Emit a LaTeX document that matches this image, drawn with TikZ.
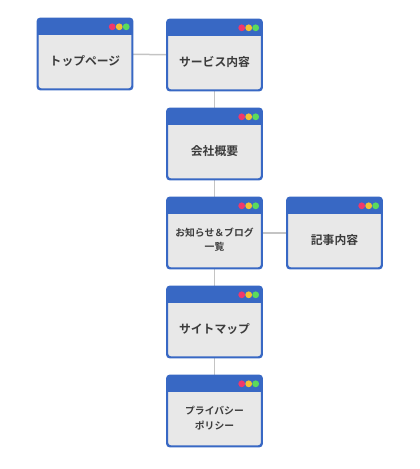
\documentclass[tikz,border=0pt]{standalone}
\usepackage{fontspec}
\newfontfamily\jp{Noto Sans CJK JP Bold}
\definecolor{hdr}{HTML}{3868C4}
\definecolor{bodyc}{HTML}{E8E8E8}
\definecolor{txt}{HTML}{3C3C3C}
\definecolor{lnc}{HTML}{C4C4C4}
\definecolor{dred}{HTML}{F0386B}
\definecolor{dyel}{HTML}{F2C230}
\definecolor{dgrn}{HTML}{5BDB5B}
\tikzset{
  page/.style={draw=hdr, line width=1.4pt, fill=bodyc, rounded corners=3pt, minimum width=94pt, minimum height=70pt, inner sep=0pt},
  pagetext/.style={font=\jp\fontsize{11.8}{14}\selectfont, text=txt, align=center},
  smalltext/.style={font=\jp\fontsize{9.8}{14.3}\selectfont, text=txt, align=center},
  conn/.style={draw=lnc, line width=1.5pt}
}
\newcommand{\winbox}[4]{%
  \node[page] (#1) at (#2) {};
  \begin{scope}
    \clip[rounded corners=3pt] (#1.north west) rectangle (#1.south east);
    \fill[hdr] (#1.north west) rectangle ([yshift=-17pt]#1.north east);
  \end{scope}
  \draw[hdr, line width=1.4pt, rounded corners=3pt] (#1.north west) rectangle (#1.south east);
  \fill[dred] ([xshift=-20.5pt,yshift=-8.5pt]#1.north east) circle (3.4pt);
  \fill[dyel] ([xshift=-13.5pt,yshift=-8.5pt]#1.north east) circle (3.4pt);
  \fill[dgrn] ([xshift=-6.5pt,yshift=-8.5pt]#1.north east) circle (3.4pt);
  \node[#4] (#1-t) at ([yshift=-7pt]#1.center) {#3};
}
\begin{document}
\begin{tikzpicture}[x=1pt,y=-1pt]
\useasboundingbox (0,0) rectangle (420,469);
\coordinate (c1) at (85,54);
\coordinate (c2) at (214.5,55);
\coordinate (c3) at (214.5,144);
\coordinate (c4) at (214.5,233);
\coordinate (c5) at (334.5,233);
\coordinate (c6) at (214.5,322);
\coordinate (c7) at (214.5,411);
\draw[conn] (c1) -- (c2);
\draw[conn] (c2) -- (c3) -- (c4) -- (c6) -- (c7);
\draw[conn] (c4) -- (c5);
\winbox{top}{c1}{トップページ}{pagetext}
\winbox{svc}{c2}{サービス内容}{pagetext}
\winbox{co}{c3}{会社概要}{pagetext}
\winbox{news}{c4}{お知らせ＆ブログ\\一覧}{smalltext}
\winbox{art}{c5}{記事内容}{pagetext}
\winbox{map}{c6}{サイトマップ}{pagetext}
\winbox{pp}{c7}{プライバシー\\ポリシー}{smalltext}
\end{tikzpicture}
\end{document}
